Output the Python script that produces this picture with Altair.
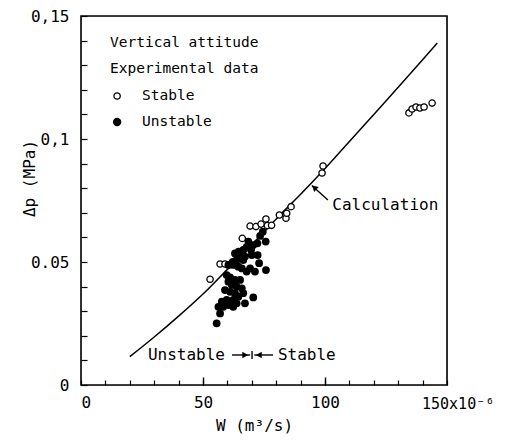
import altair as alt
import pandas as pd

# ---- data ----
calc_w = [20, 30, 40, 50, 60, 70, 80, 90, 100, 110, 120, 130, 140, 146]
calc_dp = [0.0115, 0.0195, 0.028, 0.037, 0.047, 0.057, 0.0675, 0.0775, 0.088, 0.099, 0.110, 0.121, 0.1322, 0.1390]

stable_w = [52.9, 57.0, 59.0, 66.1, 69.3, 71.7, 73.8, 75.8, 76.4, 78.1, 81.3, 84.0, 84.3, 86.1,
            98.8, 99.2, 134.4, 135.7, 137.3, 138.9, 140.6, 143.9]
stable_dp = [0.0430, 0.0492, 0.0492, 0.0596, 0.0646, 0.0644, 0.0654, 0.0675, 0.0648, 0.0649,
             0.0691, 0.0678, 0.0698, 0.0725, 0.0862, 0.0890, 0.1106, 0.1122, 0.1130, 0.1126,
             0.1130, 0.1146]

unstable_w = [74.5, 73.4, 75.7, 72.3, 70.6, 68.6, 67.9, 69.7, 66.5, 64.6, 63.1, 65.2, 66.5, 63.8,
              62.2, 60.4, 62.4, 64.5, 65.9, 69.3, 71.3, 67.9, 73.0, 72.4, 75.8, 59.7, 61.1, 63.1,
              65.2, 60.4, 61.8, 63.8, 65.9, 59.0, 61.1, 63.1, 64.5, 66.5, 70.6, 57.7, 59.7, 62.4,
              58.3, 56.3, 60.4, 63.8, 67.2, 57.0, 55.6, 62.4, 70.0, 67.2]
unstable_dp = [0.0623, 0.0606, 0.0583, 0.0576, 0.0569, 0.0583, 0.0562, 0.0549, 0.0549, 0.0542,
               0.0535, 0.0528, 0.0508, 0.0508, 0.0501, 0.0488, 0.0488, 0.0481, 0.0474, 0.0474,
               0.0461, 0.0461, 0.0495, 0.0528, 0.0467, 0.0447, 0.0438, 0.0427, 0.0427, 0.0420,
               0.0407, 0.0400, 0.0393, 0.0386, 0.0379, 0.0373, 0.0359, 0.0373, 0.0356, 0.0339,
               0.0346, 0.0346, 0.0318, 0.0318, 0.0325, 0.0332, 0.0332, 0.0291, 0.0251, 0.0318,
               0.0528, 0.0522]

x_label_values = [0, 50, 100]
x_minor_ticks = list(range(0, 151, 10))
x_major_ticks = [50, 100]
y_label_values = [0, 0.05, 0.1, 0.15]
y_minor_ticks = [i / 100 for i in range(0, 16)]

FONT = "DejaVu Sans Mono"
W, H = 366, 369

xs = alt.Scale(domain=[0, 150], nice=False, zero=False)
ys = alt.Scale(domain=[0, 0.15], nice=False, zero=False)

calc_df = pd.DataFrame({"w": calc_w, "dp": calc_dp})
stable_df = pd.DataFrame({"w": stable_w, "dp": stable_dp})
unstable_df = pd.DataFrame({"w": unstable_w, "dp": unstable_dp})

y_label_expr = ("datum.value >= 0.149 ? '0,15' : datum.value >= 0.099 ? '0,1' : "
                "datum.value >= 0.049 ? '0.05' : '0'")

calc = alt.Chart(calc_df).mark_line(color="black", strokeWidth=1.5, interpolate="monotone").encode(
    x=alt.X("w:Q", scale=xs, axis=alt.Axis(
        values=x_label_values, title="W (m³/s)", ticks=False, domain=False, grid=False,
        labelFont=FONT, labelFontSize=16, labelColor="black", labelPadding=9,
        titleFont=FONT, titleFontSize=16, titleFontWeight="normal", titleColor="black",
        titleX=173, titleY=40, titleBaseline="middle")),
    y=alt.Y("dp:Q", scale=ys, axis=alt.Axis(
        values=y_label_values, labelExpr=y_label_expr, title="Δp (MPa)", ticks=False,
        domain=False, grid=False, labelFont=FONT, labelFontSize=16, labelColor="black",
        labelPadding=12, titleFont=FONT, titleFontSize=16, titleFontWeight="normal",
        titleColor="black", titleX=-52, titleY=162, titleBaseline="middle")),
)

# inward ticks
ticks_minor = alt.Chart(calc_df).mark_point(opacity=0).encode(
    x=alt.X("w:Q", scale=xs, axis=alt.Axis(
        orient="top", offset=-H, values=x_minor_ticks, labels=False, domain=False,
        grid=False, tickSize=5, tickColor="black", tickWidth=1.2, title=None)),
    y=alt.Y("dp:Q", scale=ys, axis=alt.Axis(
        orient="right", offset=-W, values=y_minor_ticks, labels=False, domain=False,
        grid=False, tickSize=6, tickColor="black", tickWidth=1.2, title=None)),
)
ticks_major = alt.Chart(calc_df).mark_point(opacity=0).encode(
    x=alt.X("w:Q", scale=xs, axis=alt.Axis(
        orient="top", offset=-H, values=x_major_ticks, labels=False, domain=False,
        grid=False, tickSize=8, tickColor="black", tickWidth=1.4, title=None)),
    y=alt.Y("dp:Q", scale=ys, axis=None),
)

frame = alt.Chart(pd.DataFrame({"k": [0]})).mark_rect(
    fillOpacity=0, stroke="black", strokeWidth=1.6).encode(
    x=alt.value(0), x2=alt.value(W), y=alt.value(0), y2=alt.value(H))

stable = alt.Chart(stable_df).mark_point(
    shape="circle", filled=False, color="black", fill="white", fillOpacity=1,
    strokeWidth=1.3, size=40, opacity=1).encode(
    x=alt.X("w:Q", scale=xs, axis=None), y=alt.Y("dp:Q", scale=ys, axis=None))

unstable = alt.Chart(unstable_df).mark_circle(color="black", size=60, opacity=1).encode(
    x=alt.X("w:Q", scale=xs, axis=None), y=alt.Y("dp:Q", scale=ys, axis=None))

# legend block
leg_text_df = pd.DataFrame({
    "w": [11.9, 11.9, 25.0, 25.0],
    "dp": [0.139, 0.1285, 0.1175, 0.1069],
    "t": ["Vertical attitude", "Experimental data", "Stable", "Unstable"],
})
leg_text = alt.Chart(leg_text_df).mark_text(
    font=FONT, fontSize=14.5, align="left", baseline="middle", color="black").encode(
    x=alt.X("w:Q", scale=xs, axis=None), y=alt.Y("dp:Q", scale=ys, axis=None), text="t:N")
leg_open = alt.Chart(pd.DataFrame({"w": [14.8], "dp": [0.1175]})).mark_point(
    shape="circle", filled=False, color="black", strokeWidth=1.3, size=40, opacity=1).encode(
    x=alt.X("w:Q", scale=xs, axis=None), y=alt.Y("dp:Q", scale=ys, axis=None))
leg_fill = alt.Chart(pd.DataFrame({"w": [14.8], "dp": [0.1069]})).mark_circle(
    color="black", size=70, opacity=1).encode(
    x=alt.X("w:Q", scale=xs, axis=None), y=alt.Y("dp:Q", scale=ys, axis=None))

# annotations
ann_df = pd.DataFrame({
    "w": [103.0, 59.0, 80.7],
    "dp": [0.0732, 0.0122, 0.0122],
    "t": ["Calculation", "Unstable", "Stable"],
    "a": ["left", "right", "left"],
})
ann_left = alt.Chart(ann_df[ann_df.a == "left"]).mark_text(
    font=FONT, fontSize=16, align="left", baseline="middle", color="black").encode(
    x=alt.X("w:Q", scale=xs, axis=None), y=alt.Y("dp:Q", scale=ys, axis=None), text="t:N")
ann_right = alt.Chart(ann_df[ann_df.a == "right"]).mark_text(
    font=FONT, fontSize=16, align="right", baseline="middle", color="black").encode(
    x=alt.X("w:Q", scale=xs, axis=None), y=alt.Y("dp:Q", scale=ys, axis=None), text="t:N")

x150 = alt.Chart(pd.DataFrame({"w": [150], "dp": [0.0], "t": ["150x10⁻⁶"]})).mark_text(
    font=FONT, fontSize=15, align="left", baseline="top", color="black", dx=-25, dy=12).encode(
    x=alt.X("w:Q", scale=xs, axis=None), y=alt.Y("dp:Q", scale=ys, axis=None), text="t:N")

seg_df = pd.DataFrame({
    "w": [101.2, 61.9, 78.7],
    "dp": [0.0752, 0.0122, 0.0122],
    "w2": [94.6, 69.3, 71.0],
    "dp2": [0.0811, 0.0122, 0.0122],
})
segs = alt.Chart(seg_df).mark_rule(color="black", strokeWidth=1.4).encode(
    x=alt.X("w:Q", scale=xs, axis=None), y=alt.Y("dp:Q", scale=ys, axis=None),
    x2="w2:Q", y2="dp2:Q")
bar = alt.Chart(pd.DataFrame({"w": [70.1], "dp": [0.0106], "dp2": [0.0138]})).mark_rule(
    color="black", strokeWidth=1.4).encode(
    x=alt.X("w:Q", scale=xs, axis=None), y=alt.Y("dp:Q", scale=ys, axis=None), y2="dp2:Q")

heads_df = pd.DataFrame({
    "w": [95.6, 67.3, 72.9],
    "dp": [0.0803, 0.0122, 0.0122],
    "ang": [312, 90, 270],
})
heads = alt.Chart(heads_df).mark_point(
    shape="triangle-up", filled=True, color="black", size=45, opacity=1).encode(
    x=alt.X("w:Q", scale=xs, axis=None), y=alt.Y("dp:Q", scale=ys, axis=None),
    angle=alt.Angle("ang:Q", scale=None))

chart = alt.layer(
    frame, calc, ticks_minor, ticks_major, stable, unstable, leg_text, leg_open, leg_fill,
    ann_left, ann_right, x150, segs, bar, heads,
).resolve_axis(x="independent", y="independent").properties(
    width=W, height=H,
    autosize=alt.AutoSizeParams(type="none"),
    padding={"left": 73, "top": 8, "right": 50, "bottom": 50},
).configure_view(stroke=None).configure(background="white")

chart.save("out.html", embed_options={"renderer": "svg", "actions": False})
